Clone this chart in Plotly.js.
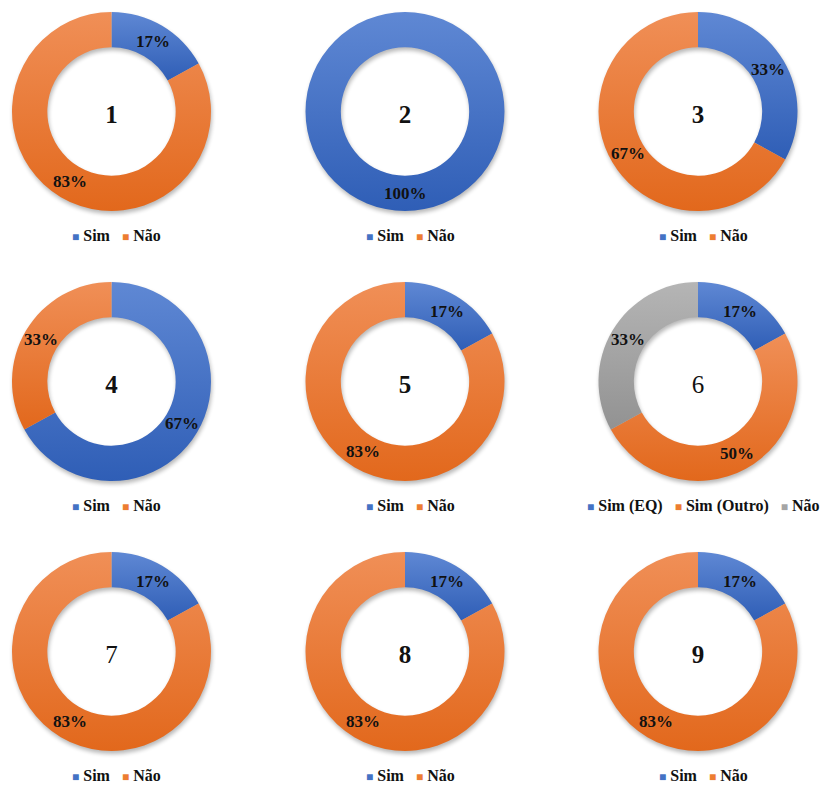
<!DOCTYPE html>
<html>
<head>
<meta charset="utf-8">
<script src="https://cdn.plot.ly/plotly-3.0.1.min.js"></script>
<style>
  html, body { margin: 0; padding: 0; background: #ffffff; }
  #chart { width: 824px; height: 785px; }
</style>
</head>
<body>
<div id="chart"></div>
<script>
// ---- data -------------------------------------------------------------
const chartNames = ['1', '2', '3', '4', '5', '6', '7', '8', '9'];
const nameIsBold = [true, true, true, true, true, false, false, true, true];

const labelsYesNo = ['Sim', 'Não'];
const labelsSplit = ['Sim (EQ)', 'Sim (Outro)', 'Não'];

// percentages per chart
const values1 = [17, 83];
const values2 = [100, 0];
const values3 = [33, 67];
const values4 = [67, 33];
const values5 = [17, 83];
const values6 = [17, 50, 33];
const values7 = [17, 83];
const values8 = [17, 83];
const values9 = [17, 83];

const chartValues = [values1, values2, values3, values4, values5, values6, values7, values8, values9];
const chartLabels = [labelsYesNo, labelsYesNo, labelsYesNo, labelsYesNo, labelsYesNo,
                     labelsSplit, labelsYesNo, labelsYesNo, labelsYesNo];

// ---- styling ----------------------------------------------------------
const BLUE = '#4472C4', ORANGE = '#ED7D31', GRAY = '#A5A5A5';
const colorsYesNo = [BLUE, ORANGE];
const colorsSplit = [BLUE, ORANGE, GRAY];
// top / bottom tones for the soft vertical shading of each slice
const shades = {
  'rgb(68, 114, 196)':  ['#5f88d4', '#2f5eb6'],
  'rgb(237, 125, 49)':  ['#f08f57', '#e2681c'],
  'rgb(165, 165, 165)': ['#b5b5b5', '#929292']
};

const W = 824, H = 785;
const R = 99.5;
const HOLE = 0.645;
const colX = [111.5, 405, 698];
const rowY = [111.5, 381.5, 651.5];
const SERIF = '"Liberation Serif", "Times New Roman", Times, serif';
const INK = '#111111';

const traces = [];
const annotations = [];

chartNames.forEach((name, i) => {
  const cx = colX[i % 3], cy = rowY[Math.floor(i / 3)];
  const vals = chartValues[i];
  const labs = chartLabels[i];
  const cols = labs.length === 3 ? colorsSplit : colorsYesNo;

  traces.push({
    type: 'pie',
    name: name,
    labels: labs,
    values: vals,
    hole: HOLE,
    sort: false,
    direction: 'clockwise',
    rotation: 0,
    marker: { colors: cols, line: { width: 0 } },
    textinfo: 'none',
    title: {
      text: name,
      position: 'middle center',
      font: { family: SERIF, size: 25, color: INK, weight: nameIsBold[i] ? 'bold' : 'normal' }
    },
    showlegend: false,
    hoverinfo: 'label+percent',
    domain: {
      x: [(cx - R) / W, (cx + R) / W],
      y: [1 - (cy + R) / H, 1 - (cy - R) / H]
    }
  });

  // value labels, centred in the ring at each slice's middle angle
  const total = vals.reduce((a, b) => a + b, 0);
  const rMid = R * (1 + HOLE) / 2;
  let cum = 0;
  vals.forEach(v => {
    const a = (cum + v / 2) / total * 2 * Math.PI;
    cum += v;
    if (v <= 0) return;
    annotations.push({
      xref: 'paper', yref: 'paper',
      x: (cx + rMid * Math.sin(a)) / W,
      y: 1 - (cy - rMid * Math.cos(a)) / H,
      xanchor: 'center', yanchor: 'middle',
      showarrow: false,
      text: v + '%',
      font: { family: SERIF, size: 17, color: INK, weight: 'bold' }
    });
  });

  // per-chart key below each ring
  const parts = labs.map((lab, k) =>
    '<span style="color:' + cols[k] + ';font-size:12px">■</span>\u00a0' + lab);
  annotations.push({
    xref: 'paper', yref: 'paper',
    x: (cx + 5) / W, y: 1 - (cy + 124) / H,
    xanchor: 'center', yanchor: 'middle',
    showarrow: false,
    text: parts.join('\u00a0\u00a0\u00a0'),
    font: { family: SERIF, size: 16, color: INK, weight: 'bold' }
  });
});

const layout = {
  width: W, height: H,
  margin: { l: 0, r: 0, t: 0, b: 0 },
  paper_bgcolor: '#ffffff',
  plot_bgcolor: '#ffffff',
  showlegend: false,
  annotations: annotations
};

function addShading(gd) {
  const svg = gd.querySelector('svg.main-svg');
  const NS = 'http://www.w3.org/2000/svg';
  let defs = svg.querySelector('defs');
  if (!defs) { defs = document.createElementNS(NS, 'defs'); svg.insertBefore(defs, svg.firstChild); }

  const ids = {};
  Object.keys(shades).forEach((key, n) => {
    const g = document.createElementNS(NS, 'linearGradient');
    const id = 'sliceShade' + n;
    g.setAttribute('id', id);
    g.setAttribute('x1', '0'); g.setAttribute('y1', '0');
    g.setAttribute('x2', '0'); g.setAttribute('y2', '1');
    [[0, shades[key][0]], [1, shades[key][1]]].forEach(([off, col]) => {
      const s = document.createElementNS(NS, 'stop');
      s.setAttribute('offset', off);
      s.setAttribute('stop-color', col);
      g.appendChild(s);
    });
    defs.appendChild(g);
    ids[key] = id;
  });

  const blur = document.createElementNS(NS, 'filter');
  blur.setAttribute('id', 'ringShadow');
  blur.setAttribute('x', '-20%'); blur.setAttribute('y', '-20%');
  blur.setAttribute('width', '140%'); blur.setAttribute('height', '140%');
  const fe = document.createElementNS(NS, 'feGaussianBlur');
  fe.setAttribute('stdDeviation', '2.2');
  blur.appendChild(fe);
  defs.appendChild(blur);

  gd.querySelectorAll('.pielayer g.trace').forEach(tr => {
    const shadow = document.createElementNS(NS, 'g');
    shadow.setAttribute('filter', 'url(#ringShadow)');
    shadow.setAttribute('transform', 'translate(1,3)');
    shadow.setAttribute('opacity', '0.28');
    tr.querySelectorAll('path.surface').forEach(p => {
      const c = p.cloneNode(false);
      c.style.fill = '#000';
      c.style.stroke = 'none';
      shadow.appendChild(c);
    });
    tr.insertBefore(shadow, tr.firstChild);

    tr.querySelectorAll('g.slice path.surface').forEach(p => {
      const id = ids[p.style.fill];
      if (id) p.style.fill = 'url(#' + id + ')';
    });
  });
}

Plotly.newPlot('chart', traces, layout, { staticPlot: true, displayModeBar: false })
  .then(addShading);
</script>
</body>
</html>
